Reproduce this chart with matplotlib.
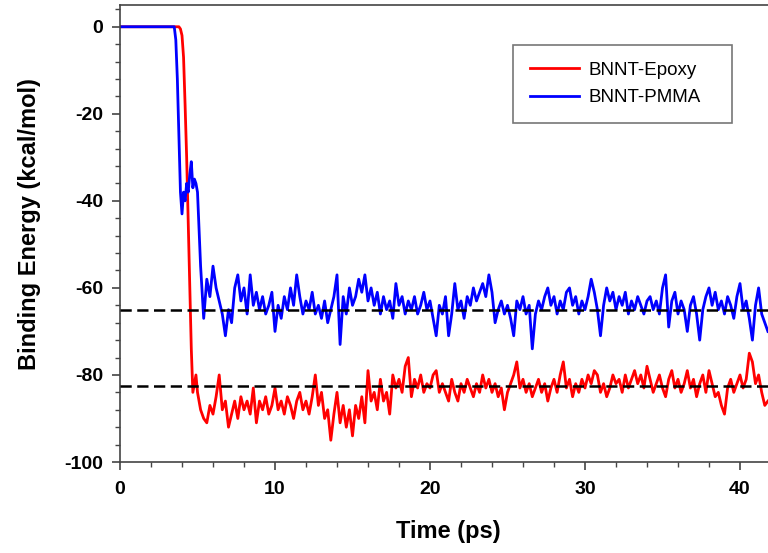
import numpy as np
import matplotlib
matplotlib.use('Agg')
import matplotlib.pyplot as plt
from matplotlib.ticker import MultipleLocator

plt.rcParams['font.family'] = ['Liberation Sans', 'DejaVu Sans']
plt.rcParams['axes.unicode_minus'] = False

# onset part (fine time steps), ps / kcal/mol
red_onset_t = [0.0, 3.8, 3.9, 4.0, 4.1, 4.2, 4.3, 4.4, 4.5, 4.6, 4.7, 4.8, 4.9]
red_onset_v = [0, 0, -0.5, -2, -7, -18, -30, -45, -60, -74, -84, -82, -80]
blue_onset_t = [0.0, 3.5, 3.6, 3.7, 3.8, 3.9, 4.0, 4.1, 4.2, 4.3, 4.4, 4.5,
                4.6, 4.7, 4.8, 4.9]
blue_onset_v = [0, 0, -3, -12, -25, -38, -43, -38, -40, -36, -38, -34,
                -31, -37, -35, -36]

# equilibrated part, every 0.2 ps starting at 5.0 ps
red_noise = [
    -84, -88, -90, -91, -87, -89, -85, -80, -88, -86,
    -92, -89, -86, -90, -85, -88, -86, -89, -83, -91,
    -86, -88, -85, -89, -87, -83, -88, -86, -89, -85,
    -87, -90, -86, -84, -88, -86, -89, -85, -80, -87,
    -84, -90, -88, -95, -89, -84, -91, -87, -92, -88,
    -94, -87, -90, -85, -91, -79, -86, -84, -88, -81,
    -86, -84, -89, -80, -83, -81, -84, -78, -76, -85,
    -81, -83, -80, -84, -82, -83, -80, -79, -84, -82,
    -84, -86, -81, -84, -86, -82, -84, -81, -83, -85,
    -82, -84, -80, -83, -81, -84, -82, -85, -83, -88,
    -84, -82, -80, -77, -83, -81, -84, -82, -85, -83,
    -81, -84, -82, -86, -83, -81, -84, -80, -77, -83,
    -81, -85, -82, -84, -81, -83, -80, -82, -79, -80,
    -84, -82, -85, -83, -80, -82, -81, -84, -80, -83,
    -81, -79, -82, -80, -83, -78, -81, -84, -82, -80,
    -83, -85, -81, -79, -83, -81, -84, -82, -79, -83,
    -81, -85, -82, -80, -84, -79, -82, -85, -84, -87,
    -89, -83, -81, -84, -82, -80, -83, -81, -75, -77,
    -82, -80, -84, -87, -86,
]
blue_noise = [
    -38, -55, -67, -58, -62, -55, -60, -63, -66, -71,
    -65, -68, -60, -57, -63, -60, -66, -57, -64, -61,
    -65, -62, -66, -64, -61, -70, -64, -67, -62, -65,
    -60, -64, -57, -62, -66, -63, -65, -61, -66, -64,
    -67, -63, -68, -65, -62, -57, -73, -62, -66, -60,
    -64, -62, -58, -61, -57, -63, -60, -64, -61, -66,
    -62, -65, -63, -67, -59, -64, -62, -66, -63, -65,
    -62, -66, -64, -61, -65, -63, -67, -71, -64, -66,
    -62, -71, -66, -59, -65, -63, -67, -62, -64, -60,
    -63, -61, -59, -62, -57, -61, -68, -65, -63, -66,
    -64, -67, -71, -63, -65, -62, -66, -64, -74, -66,
    -63, -65, -62, -60, -64, -62, -66, -63, -65, -61,
    -60, -64, -62, -66, -63, -65, -62, -58, -61, -65,
    -71, -64, -60, -63, -61, -65, -62, -64, -61, -66,
    -63, -65, -62, -64, -66, -63, -62, -65, -63, -66,
    -60, -57, -69, -63, -61, -66, -63, -65, -70, -64,
    -62, -66, -72, -65, -62, -60, -64, -61, -65, -63,
    -66, -62, -64, -67, -62, -59, -65, -63, -67, -72,
    -64, -60, -66, -68, -70,
]
avg_levels = [-65, -82.5]

t_red = np.concatenate([red_onset_t, 5.0 + 0.2 * np.arange(len(red_noise))])
v_red = np.concatenate([red_onset_v, red_noise])
t_blue = np.concatenate([blue_onset_t, 5.0 + 0.2 * np.arange(len(blue_noise))])
v_blue = np.concatenate([blue_onset_v, blue_noise])

fig = plt.figure(figsize=(7.68, 5.53), dpi=100)
ax = fig.add_axes([120/768, 1 - 462/553, 648/768, 457/553])

ax.plot(t_red, v_red, color='#ff0000', lw=2.0, label='BNNT-Epoxy')
ax.plot(t_blue, v_blue, color='#0000ff', lw=2.0, label='BNNT-PMMA')
for lvl in avg_levels:
    ax.axhline(lvl, color='black', lw=1.8, dashes=(4.5, 2.2), zorder=5)

ax.set_xlim(0, 648 / 15.5)
ax.set_ylim(-100, 5)
ax.xaxis.set_major_locator(MultipleLocator(10))
ax.xaxis.set_minor_locator(MultipleLocator(2))
ax.yaxis.set_major_locator(MultipleLocator(20))
ax.yaxis.set_minor_locator(MultipleLocator(4))

ax.spines['right'].set_visible(False)
for s in ['left', 'bottom', 'top']:
    ax.spines[s].set_color('#444444')
    ax.spines[s].set_linewidth(1.2)

ax.tick_params(which='major', length=6, width=1.2, color='#444444')
ax.tick_params(which='minor', length=3.5, width=1.0, color='#444444')
ax.tick_params(axis='x', which='major', pad=8)
ax.tick_params(axis='y', which='major', pad=6)
for lab in ax.get_xticklabels() + ax.get_yticklabels():
    lab.set_fontweight('bold')
    lab.set_fontsize(14)

ax.set_xlabel('Time (ps)', fontsize=17, fontweight='bold')
ax.set_ylabel('Binding Energy (kcal/mol)', fontsize=17, fontweight='bold')
ax.xaxis.set_label_coords(0.506, -0.128)
ax.yaxis.set_label_coords(-0.122, 0.52)

leg = ax.legend(loc='upper left', bbox_to_anchor=(0.6065, 0.744, 0.338, 0.1685),
                mode='expand', borderaxespad=0, fontsize=13.5, frameon=True,
                fancybox=False, handlelength=2.6, handletextpad=0.55,
                labelspacing=0.55, borderpad=0.9)
leg.get_frame().set_edgecolor('#555555')
leg.get_frame().set_linewidth(1.2)

fig.savefig('out.png', dpi=100)
